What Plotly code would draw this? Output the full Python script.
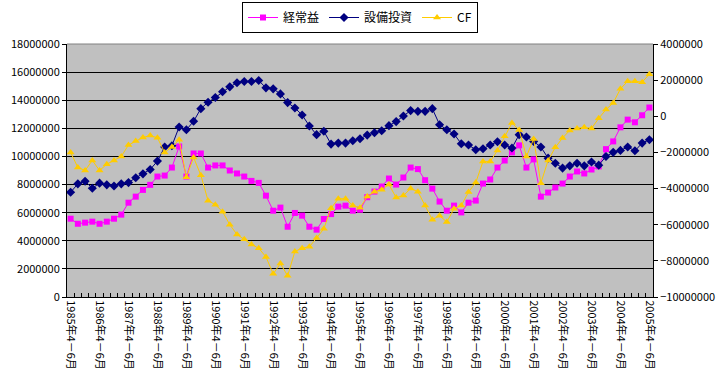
import plotly.graph_objects as go

periods = ["4－6月", "7－9月", "10－12月", "1－3月"]
quarters = [f"{1985 + (k + 1) // 4}年{periods[k % 4]}" for k in range(81)]

keijo = [5.57, 5.21, 5.29, 5.36, 5.21, 5.36, 5.57, 5.86, 6.71, 7.14,
         7.62, 7.98, 8.57, 8.64, 9.21, 10.71, 8.57, 10.21, 10.21, 9.21,
         9.36, 9.36, 9.00, 8.79, 8.57, 8.26, 8.12, 7.21, 6.14, 6.36,
         5.00, 5.98, 5.79, 5.00, 4.79, 5.55, 5.90, 6.43, 6.50, 6.14,
         6.21, 7.10, 7.50, 7.86, 8.43, 8.00, 8.50, 9.21, 9.10, 8.31,
         7.71, 6.79, 6.14, 6.50, 6.02, 6.71, 6.86, 8.07, 8.36, 9.21,
         9.71, 10.29, 10.79, 9.21, 9.79, 7.14, 7.43, 7.79, 8.07, 8.57,
         8.93, 8.79, 9.07, 9.29, 10.52, 11.07, 12.07, 12.62, 12.43, 12.93,
         13.48]

setsubi = [7.45, 8.05, 8.24, 7.74, 8.10, 7.98, 7.90, 8.05, 8.14, 8.48,
           8.76, 9.07, 9.67, 10.67, 10.76, 12.10, 11.90, 12.50, 13.40, 13.86,
           14.19, 14.60, 14.95, 15.24, 15.33, 15.33, 15.40, 14.88, 14.81, 14.45,
           13.83, 13.45, 12.95, 12.17, 11.55, 11.79, 10.88, 10.95, 10.95, 11.12,
           11.26, 11.52, 11.69, 11.83, 12.19, 12.48, 12.88, 13.26, 13.21, 13.21,
           13.40, 12.26, 11.90, 11.60, 10.90, 10.81, 10.48, 10.55, 10.81, 11.05,
           10.81, 10.60, 11.55, 11.38, 11.07, 10.67, 9.88, 9.52, 9.17, 9.33,
           9.52, 9.33, 9.60, 9.38, 10.00, 10.29, 10.43, 10.67, 10.40, 10.95,
           11.19]

cf = [-2.00, -2.83, -3.00, -2.44, -3.00, -2.65, -2.44, -2.22, -1.59, -1.37,
      -1.17, -1.07, -1.19, -2.00, -1.70, -1.30, -3.37, -2.28, -3.26, -4.67,
      -4.89, -5.28, -6.00, -6.54, -6.80, -7.09, -7.30, -7.78, -8.72, -8.15,
      -8.83, -7.48, -7.30, -7.22, -6.74, -6.22, -5.09, -4.56, -4.56, -4.94,
      -5.06, -4.44, -4.17, -4.06, -3.78, -4.50, -4.39, -4.00, -4.17, -4.94,
      -5.72, -5.50, -5.85, -5.11, -4.94, -4.19, -3.67, -2.50, -2.50, -1.89,
      -1.11, -0.37, -0.76, -2.22, -1.26, -3.70, -2.44, -1.72, -1.20, -0.78,
      -0.67, -0.61, -0.67, -0.11, 0.37, 0.74, 1.52, 1.94, 1.94, 1.89,
      2.33]

left_ticks = list(range(0, 18000001, 2000000))
right_ticks = list(range(-10000000, 4000001, 2000000))

keijo_v = [v * 1e6 for v in keijo]
setsubi_v = [v * 1e6 for v in setsubi]
cf_v = [v * 1e6 for v in cf]

tick_text = [q if i % 4 == 0 else "" for i, q in enumerate(quarters)]

FONT = "Noto Sans CJK JP"

fig = go.Figure()
fig.add_trace(go.Scatter(
    x=quarters, y=keijo_v, name="経常益", mode="lines+markers",
    line=dict(color="#FF00FF", width=1),
    marker=dict(symbol="square", size=6, color="#FF00FF")))
fig.add_trace(go.Scatter(
    x=quarters, y=setsubi_v, name="設備投資", mode="lines+markers",
    line=dict(color="#000080", width=1),
    marker=dict(symbol="diamond", size=7, color="#000080")))
fig.add_trace(go.Scatter(
    x=quarters, y=cf_v, name="CF", mode="lines+markers", yaxis="y2",
    line=dict(color="#FFCC00", width=1),
    marker=dict(symbol="triangle-up", size=7, color="#FFCC00")))

fig.update_layout(
    width=728, height=390,
    margin=dict(l=67, r=75, t=44, b=93, autoexpand=False),
    paper_bgcolor="white", plot_bgcolor="#C0C0C0",
    font=dict(family=FONT, size=11, color="black"),
    showlegend=True,
    legend=dict(orientation="h", x=0.5, xanchor="center", y=1.166, yanchor="top",
                bordercolor="black", borderwidth=1, bgcolor="white",
                font=dict(size=12), itemwidth=30, tracegroupgap=0),
    xaxis=dict(type="category", categoryorder="array", categoryarray=quarters,
               tickmode="array", tickvals=quarters, ticktext=tick_text,
               tickson="boundaries", ticks="inside", ticklen=4, tickcolor="black",
               tickangle=90, showgrid=False, showline=True, linecolor="black",
               linewidth=1, range=[-0.5, 80.5], zeroline=False, automargin=False,
               tickfont=dict(size=11)),
    yaxis=dict(range=[0, 18000000], tickvals=left_ticks,
               ticktext=[str(v) for v in left_ticks], automargin=False,
               showgrid=True, gridcolor="black", gridwidth=1,
               ticks="outside", ticklen=4, tickcolor="black",
               showline=True, linecolor="black", linewidth=1, zeroline=False),
    yaxis2=dict(range=[-10000000, 4000000], tickvals=right_ticks,
                ticktext=[str(v).replace("-", "−") for v in right_ticks],
                overlaying="y", side="right", showgrid=False, automargin=False,
                ticks="outside", ticklen=4, tickcolor="black",
                showline=True, linecolor="black", linewidth=1, zeroline=False),
    shapes=[dict(type="line", xref="paper", yref="paper", x0=0, x1=1, y0=1, y1=1,
                 line=dict(color="#808080", width=1))],
)

fig.write_html("out.html", config={"displayModeBar": False},
               post_script="document.body.style.margin='0';document.body.style.padding='0';")
